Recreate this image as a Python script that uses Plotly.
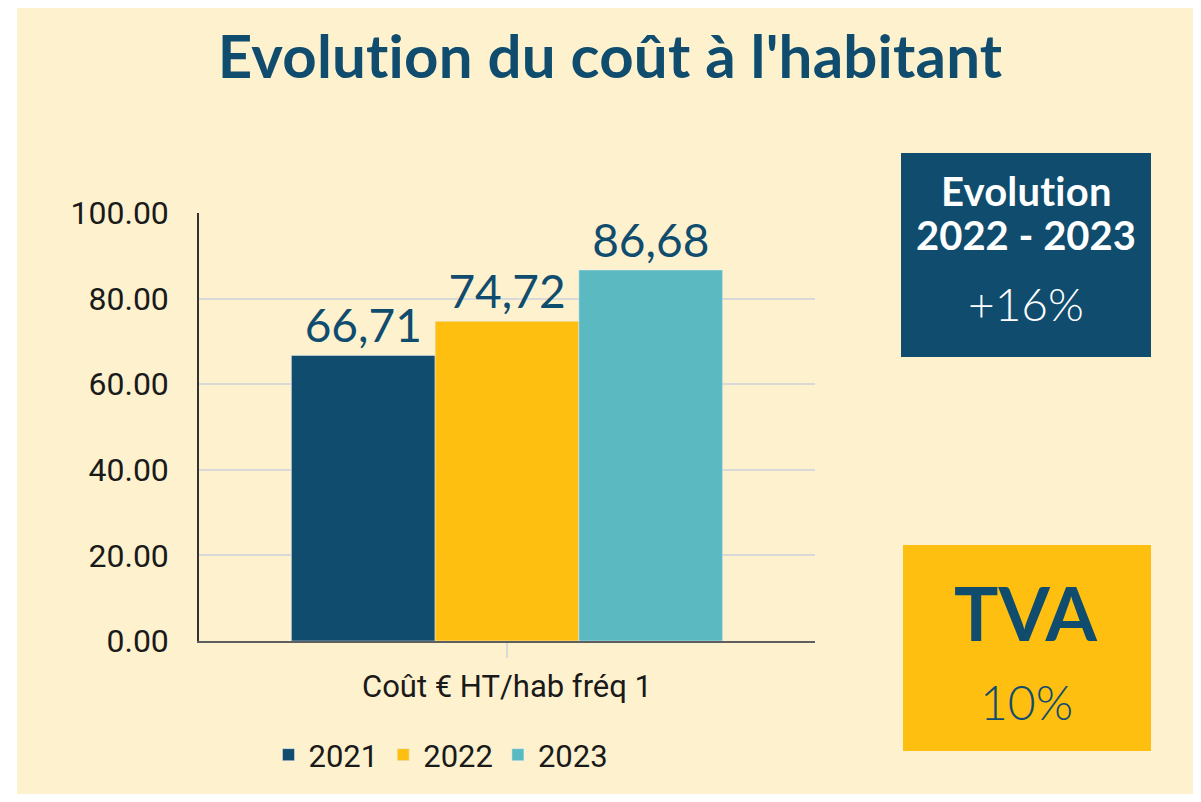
import plotly.graph_objects as go

# Data
categories = ["Coût € HT/hab fréq 1"]
years = ["2021", "2022", "2023"]
values = [66.71, 74.72, 86.68]
y_ticks = [0, 20, 40, 60, 80, 100]

colors = ["#0F4C6E", "#FEBF10", "#5BB9C2"]
navy = "#0F4C6E"
cream = "#FEF1CE"

W, H = 1185, 786
# plot area in page pixels
PL, PR, PT, PB = 199, 815, 213, 641


def px(x):
    # page pixel -> paper (plot area) fraction
    return (x - PL) / (PR - PL)


def py(y):
    return (PB - y) / (PB - PT)


def nolig(s):
    # tiny letter spacing stops Lato's "ti" ligature
    return f"<span style='letter-spacing:0.2px'>{s}</span>"


fig = go.Figure()

for year, val, col in zip(years, values, colors):
    fig.add_trace(go.Bar(
        x=categories,
        y=[val],
        name=year,
        marker_color=col,
        text=[f"{val:.2f}".replace(".", ",")],
        textposition="outside",
        textfont=dict(family="Lato", size=46, color=navy),
        cliponaxis=False,
    ))

# background card and side boxes
shapes = [
    dict(type="rect", xref="paper", yref="paper", x0=px(17), x1=px(1205), y0=py(800), y1=py(0),
         fillcolor=cream, line_width=0, layer="below"),
    dict(type="rect", xref="paper", yref="paper", x0=px(901), x1=px(1151), y0=py(357), y1=py(153),
         fillcolor=navy, line_width=0),
    dict(type="rect", xref="paper", yref="paper", x0=px(903), x1=px(1151), y0=py(751), y1=py(545),
         fillcolor="#FEBF10", line_width=0),
]

annotations = [
    dict(text="<b>" + nolig("Evolution") + "</b>", x=px(1026), y=py(191),
         font=dict(family="Lato", size=40, color="white")),
    dict(text="<b>2022 - 2023</b>", x=px(1026), y=py(235), font=dict(family="Lato", size=40, color="white")),
    dict(text="+16%", x=px(1026), y=py(303), font=dict(family="Lato", size=46, color="white", weight=300)),
    dict(text="<b>TVA</b>", x=px(1026), y=py(612), font=dict(family="Lato", size=74, color=navy)),
    dict(text="10%", x=px(1026), y=py(701), font=dict(family="Lato", size=48, color=navy, weight=300)),
]
for a in annotations:
    a.update(xref="paper", yref="paper", showarrow=False, xanchor="center", yanchor="middle")

fig.update_layout(
    width=W,
    height=H,
    paper_bgcolor="white",
    plot_bgcolor="rgba(0,0,0,0)",
    barmode="group",
    bargap=0.3,
    bargroupgap=0,
    margin=dict(l=PL - 8, r=W - (PR - 8), t=PT - 8, b=H - (PB - 8)),
    title=dict(
        text="<b>" + nolig("Evolution du coût à l'habitant") + "</b>",
        x=(610 - 8) / W, y=1 - (57 - 8) / H, xanchor="center", yanchor="middle",
        font=dict(family="Lato", size=60, color=navy),
    ),
    font=dict(family="Roboto", size=30, color="#1a1a1a"),
    xaxis=dict(
        showline=True, linecolor="#5f5f5f", linewidth=2,
        ticks="outside", ticklen=15, tickcolor="#d9d9d9", tickwidth=1.5,
        tickfont=dict(family="Roboto", size=31, color="#1a1a1a"),
        ticklabelstandoff=2,
    ),
    yaxis=dict(
        range=[0, 100], tickvals=y_ticks, tickformat=".2f",
        showgrid=True, gridcolor="#d9d9d9", gridwidth=2,
        showline=True, linecolor="#333333", linewidth=1.5,
        zeroline=False, ticks="", ticklabelstandoff=22,
        tickfont=dict(family="Roboto", size=32, color="#1a1a1a"),
    ),
    legend=dict(
        orientation="h", x=px(441), xanchor="center", y=py(755), yanchor="middle",
        font=dict(family="Roboto", size=31, color="#1a1a1a"),
        bgcolor="rgba(0,0,0,0)", itemwidth=30, traceorder="normal",
    ),
    shapes=shapes,
    annotations=annotations,
)

fig.write_html("out.html")
